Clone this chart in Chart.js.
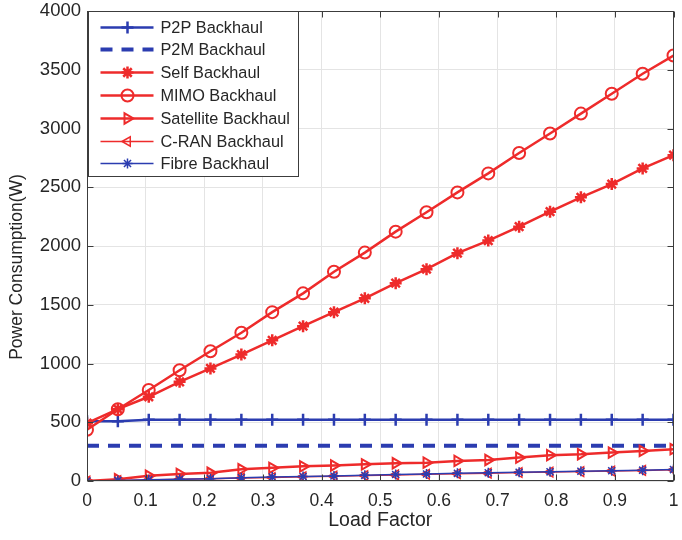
<!DOCTYPE html>
<html><head><meta charset="utf-8">
<script src="https://cdn.jsdelivr.net/npm/chart.js@4.4.0/dist/chart.umd.min.js"></script>
<style>html,body{margin:0;padding:0;background:#fff;} canvas{display:block;}</style>
</head><body>
<canvas id="c" width="682" height="540"></canvas>
<script>
// ---- data ----
const loadFactor = [0, 0.0526, 0.1053, 0.1579, 0.2105, 0.2632, 0.3158, 0.3684, 0.4211, 0.4737,
                    0.5263, 0.5789, 0.6316, 0.6842, 0.7368, 0.7895, 0.8421, 0.8947, 0.9474, 1];
const seriesNames = ['P2P Backhaul', 'P2M Backhaul', 'Self Backhaul', 'MIMO Backhaul',
                     'Satellite Backhaul', 'C-RAN Backhaul', 'Fibre Backhaul'];
const p2p = [508, 508, 521, 521, 521, 521, 521, 521, 521, 521, 521, 521, 521, 521, 521, 521, 521, 521, 521, 521];
const p2m = [300, 300, 300, 300, 300, 300, 300, 300, 300, 300, 300, 300, 300, 300, 300, 300, 300, 300, 300, 300];
const selfBh = [492, 611, 717, 844, 958, 1076, 1197, 1318, 1437, 1555, 1684, 1803, 1939, 2046, 2164, 2292, 2414, 2527, 2660, 2773];
const mimo = [436, 611, 774, 943, 1104, 1262, 1437, 1597, 1781, 1944, 2122, 2287, 2456, 2618, 2792, 2957, 3127, 3296, 3466, 3621];
const satellite = [0, 15, 45, 60, 70, 100, 112, 125, 132, 142, 151, 156, 171, 179, 199, 220, 228, 242, 256, 271];
const cran = [0, 4, 9, 14, 19, 25, 30, 36, 41, 46, 52, 57, 62, 67, 72, 76, 80, 85, 90, 95];
const fibre = [0, 5, 10, 15, 20, 28, 33, 38, 43, 48, 55, 60, 65, 70, 74, 78, 83, 87, 92, 97];
const xTicks = [0, 0.1, 0.2, 0.3, 0.4, 0.5, 0.6, 0.7, 0.8, 0.9, 1];
const yTicks = [0, 500, 1000, 1500, 2000, 2500, 3000, 3500, 4000];
const xTitle = 'Load Factor';
const yTitle = 'Power Consumption(W)';

// ---- styles ----
const BLUE = '#2b3cb0', RED = '#ee2b2b', TXT = '#262626', FRAME = '#3c3c3c';
const FONT = '"Liberation Sans", Arial, Helvetica, sans-serif';
Chart.defaults.font.family = FONT;
Chart.defaults.color = TXT;

const pts = arr => arr.map((v, i) => ({x: loadFactor[i], y: v}));
const styles = [
  {c: BLUE, w: 2.5, ps: 'cross', r: 6, pw: 2.5},
  {c: BLUE, w: 4, dash: [12, 9], ps: false, r: 0, pw: 0},
  {c: RED, w: 2.5, ps: 'star', r: 6, pw: 2.5},
  {c: RED, w: 2.5, ps: 'circle', r: 6, pw: 2},
  {c: RED, w: 2.5, ps: 'triangle', rot: 90, r: 6, pw: 2},
  {c: RED, w: 1.5, ps: 'triangle', rot: -90, r: 5.5, pw: 1.5},
  {c: BLUE, w: 1.5, ps: 'star', r: 5, pw: 1.5}
];
const seriesData = [p2p, p2m, selfBh, mimo, satellite, cran, fibre];

const datasets = seriesData.map((arr, i) => {
  const s = styles[i];
  return {
    label: seriesNames[i],
    data: pts(arr),
    borderColor: s.c,
    borderWidth: s.w,
    borderDash: s.dash || [],
    pointStyle: s.ps,
    pointRotation: s.rot || 0,
    pointRadius: s.r,
    pointBorderWidth: s.pw,
    pointBorderColor: s.c,
    pointBackgroundColor: 'rgba(0,0,0,0)',
    fill: false,
    tension: 0,
    order: 6 - i
  };
});

function drawMarker(ctx, s, x, y) {
  if (!s.ps || !s.r) return;
  ctx.save();
  ctx.strokeStyle = s.c; ctx.fillStyle = 'rgba(0,0,0,0)'; ctx.lineWidth = s.pw; ctx.setLineDash([]);
  if (Chart.helpers && Chart.helpers.drawPoint) {
    Chart.helpers.drawPoint(ctx, {pointStyle: s.ps, rotation: s.rot || 0, radius: s.r, borderWidth: s.pw}, x, y);
  }
  ctx.restore();
}

const frameLegend = {
  id: 'frameLegend',
  afterDraw(chart) {
    const ctx = chart.ctx, a = chart.chartArea;
    const L = Math.round(a.left) + 0.5, T = Math.round(a.top) + 0.5;
    const R = Math.round(a.right) - 0.5, B = Math.round(a.bottom) - 0.5;
    const xs = chart.scales.x, ys = chart.scales.y;
    ctx.save();
    ctx.strokeStyle = FRAME; ctx.lineWidth = 1; ctx.setLineDash([]);
    ctx.beginPath();
    xs.ticks.forEach(t => {
      const px = Math.round(xs.getPixelForValue(t.value)) + 0.5;
      ctx.moveTo(px, B); ctx.lineTo(px, B - 6);
      ctx.moveTo(px, T); ctx.lineTo(px, T + 6);
    });
    ys.ticks.forEach(t => {
      const py = Math.round(ys.getPixelForValue(t.value)) + 0.5;
      ctx.moveTo(L, py); ctx.lineTo(L + 6, py);
      ctx.moveTo(R, py); ctx.lineTo(R - 6, py);
    });
    ctx.stroke();
    ctx.strokeRect(L, T, R - L, B - T);

    // y axis title
    ctx.save();
    ctx.translate(17, 267);
    ctx.rotate(-Math.PI / 2);
    ctx.font = '17.5px ' + FONT;
    ctx.fillStyle = TXT;
    ctx.textAlign = 'center';
    ctx.textBaseline = 'middle';
    ctx.fillText(yTitle, 0, 0);
    ctx.restore();

    // legend box
    const bx = L + 1, by = T, bw = 210, bh = 165;
    ctx.fillStyle = '#fff';
    ctx.fillRect(bx, by, bw, bh);
    ctx.strokeStyle = FRAME;
    ctx.strokeRect(bx, by, bw, bh);
    ctx.font = '16.3px ' + FONT;
    ctx.textBaseline = 'middle';
    ctx.textAlign = 'left';
    seriesNames.forEach((name, i) => {
      const s = styles[i];
      const y = Math.round(by + 15 + i * 22.8) + 0.5;
      ctx.save();
      ctx.strokeStyle = s.c; ctx.lineWidth = s.w; ctx.setLineDash(s.dash || []);
      ctx.beginPath(); ctx.moveTo(bx + 12, y); ctx.lineTo(bx + 65, y); ctx.stroke();
      ctx.restore();
      drawMarker(ctx, s, bx + 39, y);
      ctx.fillStyle = TXT;
      ctx.fillText(name, bx + 72, y + 1);
    });
    ctx.restore();
  }
};

new Chart(document.getElementById('c'), {
  type: 'line',
  data: {datasets},
  options: {
    responsive: false,
    devicePixelRatio: 1,
    animation: false,
    events: [],
    layout: {padding: {left: 0, right: 2, top: 11, bottom: 0}},
    plugins: {legend: {display: false}, tooltip: {enabled: false}},
    scales: {
      x: {
        type: 'linear', min: 0, max: 1,
        afterBuildTicks: s => { s.ticks = xTicks.map(v => ({value: v})); },
        afterFit: s => { s.height = 59; s.paddingLeft = 0; s.paddingRight = 0; },
        ticks: {callback: v => String(v), font: {size: 17.5}, color: TXT, padding: 10, maxRotation: 0, autoSkip: false},
        grid: {color: '#e4e4e4', lineWidth: 1, drawTicks: false},
        border: {display: false},
        title: {display: true, text: xTitle, font: {size: 19.5}, color: TXT, padding: {top: 0, bottom: 8}}
      },
      y: {
        type: 'linear', min: 0, max: 4000,
        afterBuildTicks: s => { s.ticks = yTicks.map(v => ({value: v})); },
        afterFit: s => { s.width = 87; s.paddingTop = 0; s.paddingBottom = 0; },
        ticks: {callback: v => String(v), font: {size: 18.5}, color: TXT, padding: 6, autoSkip: false},
        grid: {color: '#e4e4e4', lineWidth: 1, drawTicks: false},
        border: {display: false},
        title: {display: false}
      }
    }
  },
  plugins: [frameLegend]
});
</script>
</body></html>
